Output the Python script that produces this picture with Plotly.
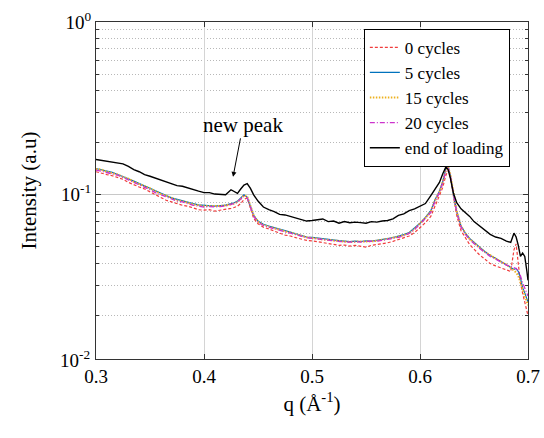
import plotly.graph_objects as go

q = [0.300, 0.305, 0.310, 0.315, 0.320, 0.325, 0.330, 0.335, 0.340, 0.345,
     0.350, 0.355, 0.360, 0.365, 0.370, 0.375, 0.380, 0.385, 0.390, 0.395,
     0.400, 0.405, 0.410, 0.415, 0.420, 0.425, 0.428, 0.431, 0.434, 0.437,
     0.440, 0.443, 0.446, 0.450, 0.455, 0.460, 0.465, 0.470, 0.475, 0.480,
     0.485, 0.490, 0.495, 0.500, 0.505, 0.510, 0.515, 0.520, 0.525, 0.530,
     0.535, 0.540, 0.545, 0.550, 0.555, 0.560, 0.565, 0.570, 0.575, 0.580,
     0.585, 0.590, 0.595, 0.600, 0.605, 0.610, 0.614, 0.618, 0.621, 0.624,
     0.626, 0.628, 0.631, 0.634, 0.638, 0.642, 0.646, 0.650, 0.655, 0.660,
     0.665, 0.670, 0.675, 0.680, 0.684, 0.687, 0.689, 0.691, 0.693, 0.695,
     0.697, 0.699, 0.700]

end_loading = [0.160, 0.158, 0.157, 0.155, 0.153, 0.151, 0.146, 0.140, 0.136, 0.131,
               0.128, 0.125, 0.121, 0.118, 0.116, 0.113, 0.112, 0.110, 0.107, 0.105,
               0.103, 0.103, 0.101, 0.100, 0.100, 0.107, 0.104, 0.102, 0.108, 0.114,
               0.116, 0.109, 0.100, 0.092, 0.085, 0.082, 0.080, 0.077, 0.0765, 0.075,
               0.0735, 0.072, 0.0705, 0.071, 0.0715, 0.0725, 0.070, 0.0705, 0.0685, 0.070,
               0.069, 0.0695, 0.069, 0.0685, 0.070, 0.0695, 0.0705, 0.071, 0.0725, 0.076,
               0.0775, 0.081, 0.083, 0.0855, 0.089, 0.099, 0.108, 0.118, 0.132, 0.145,
               0.140, 0.126, 0.102, 0.090, 0.083, 0.079, 0.075, 0.070, 0.066, 0.062,
               0.059, 0.057, 0.056, 0.054, 0.053, 0.060, 0.057, 0.051, 0.044, 0.046,
               0.044, 0.036, 0.032]

cyc5 = [0.142, 0.140, 0.137, 0.135, 0.131, 0.128, 0.124, 0.120, 0.116, 0.113,
        0.109, 0.105, 0.102, 0.099, 0.096, 0.094, 0.092, 0.0905, 0.089, 0.0875,
        0.0868, 0.0865, 0.0860, 0.0866, 0.0872, 0.089, 0.090, 0.092, 0.096, 0.100,
        0.097, 0.086, 0.076, 0.0705, 0.0675, 0.066, 0.0645, 0.063, 0.062, 0.0608,
        0.0595, 0.0582, 0.057, 0.0568, 0.0562, 0.0556, 0.0552, 0.0548, 0.0543, 0.054,
        0.0536, 0.054, 0.0537, 0.0542, 0.054, 0.0546, 0.055, 0.0558, 0.0566, 0.0576,
        0.0588, 0.0605, 0.064, 0.0685, 0.074, 0.081, 0.094, 0.105, 0.119, 0.142,
        0.148, 0.130, 0.100, 0.080, 0.066, 0.060, 0.056, 0.053, 0.050, 0.047,
        0.0445, 0.043, 0.041, 0.0395, 0.038, 0.037, 0.0375, 0.036, 0.033, 0.029,
        0.027, 0.025, 0.024]

cyc15 = [0.141, 0.140, 0.136, 0.134, 0.131, 0.127, 0.124, 0.119, 0.116, 0.112,
         0.109, 0.105, 0.101, 0.099, 0.096, 0.093, 0.092, 0.090, 0.088, 0.087,
         0.086, 0.0862, 0.0858, 0.0862, 0.0868, 0.088, 0.089, 0.091, 0.095, 0.099,
         0.098, 0.087, 0.076, 0.070, 0.067, 0.0655, 0.064, 0.0625, 0.0615, 0.0605,
         0.059, 0.058, 0.0568, 0.0565, 0.0558, 0.0552, 0.0548, 0.0545, 0.054, 0.0538,
         0.0533, 0.0536, 0.0535, 0.0538, 0.0538, 0.0542, 0.0548, 0.0555, 0.0563, 0.0572,
         0.0585, 0.060, 0.0635, 0.068, 0.0735, 0.080, 0.093, 0.104, 0.118, 0.140,
         0.145, 0.132, 0.101, 0.080, 0.066, 0.0598, 0.0555, 0.0525, 0.0495, 0.0468,
         0.0445, 0.0428, 0.041, 0.0395, 0.0378, 0.0365, 0.0355, 0.034, 0.031, 0.028,
         0.026, 0.024, 0.023]

cyc20 = [0.139, 0.137, 0.135, 0.132, 0.130, 0.126, 0.122, 0.118, 0.115, 0.111,
         0.107, 0.103, 0.100, 0.097, 0.095, 0.092, 0.091, 0.089, 0.087, 0.086,
         0.085, 0.0855, 0.085, 0.0855, 0.0862, 0.088, 0.089, 0.091, 0.094, 0.098,
         0.096, 0.085, 0.075, 0.0695, 0.0665, 0.065, 0.0635, 0.062, 0.061, 0.060,
         0.0588, 0.0578, 0.0565, 0.056, 0.0555, 0.0548, 0.0545, 0.054, 0.0538, 0.0535,
         0.0532, 0.0535, 0.0533, 0.0537, 0.0536, 0.054, 0.0545, 0.0552, 0.056, 0.0568,
         0.058, 0.0598, 0.063, 0.0675, 0.073, 0.079, 0.092, 0.103, 0.117, 0.138,
         0.143, 0.130, 0.099, 0.079, 0.065, 0.059, 0.055, 0.052, 0.049, 0.0465,
         0.044, 0.0425, 0.0408, 0.0392, 0.0385, 0.038, 0.0375, 0.036, 0.034, 0.031,
         0.029, 0.027, 0.026]

cyc0 = [0.136, 0.133, 0.131, 0.129, 0.126, 0.123, 0.118, 0.115, 0.111, 0.108,
        0.104, 0.100, 0.097, 0.093, 0.091, 0.089, 0.087, 0.086, 0.084, 0.082,
        0.0815, 0.082, 0.0805, 0.0815, 0.082, 0.0835, 0.0845, 0.086, 0.089, 0.094,
        0.096, 0.084, 0.073, 0.068, 0.065, 0.0635, 0.0615, 0.060, 0.0585, 0.0578,
        0.0565, 0.0555, 0.0545, 0.0542, 0.0535, 0.0528, 0.0522, 0.0518, 0.051, 0.0512,
        0.0505, 0.051, 0.0505, 0.0498, 0.051, 0.0515, 0.0522, 0.0528, 0.0538, 0.055,
        0.0562, 0.0578, 0.0605, 0.0645, 0.069, 0.075, 0.086, 0.097, 0.110, 0.130,
        0.138, 0.126, 0.095, 0.076, 0.062, 0.056, 0.0515, 0.0485, 0.045, 0.0425,
        0.040, 0.0388, 0.0378, 0.0368, 0.036, 0.048, 0.052, 0.040, 0.031, 0.027,
        0.024, 0.021, 0.020]

series = [
    ("0 cycles", cyc0, "#f03c3c", "3px,2px", 1.2),
    ("5 cycles", cyc5, "#0072BD", "solid", 1.2),
    ("15 cycles", cyc15, "#EDB120", "1.5px,1.5px", 2.0),
    ("20 cycles", cyc20, "#CC33CC", "5px,2px,1px,2px", 1.3),
    ("end of loading", end_loading, "#000000", "solid", 1.4),
]

FONT = "Liberation Serif"

fig = go.Figure()
for name, vals, color, dash, w in series:
    fig.add_trace(go.Scatter(x=q, y=vals, mode="lines", name=name,
                             line=dict(color=color, width=w, dash=dash)))

minor_vals = [m * 10 ** e for e in (-2, -1) for m in range(2, 10)]

fig.update_layout(
    width=544, height=438,
    margin=dict(l=96, r=16, t=22, b=79),
    paper_bgcolor="white", plot_bgcolor="white",
    font=dict(family=FONT, size=18, color="black"),
    showlegend=True,
    legend=dict(x=0.62, y=0.98, xanchor="left", yanchor="top",
                bgcolor="white", bordercolor="black", borderwidth=1,
                font=dict(family=FONT, size=17, color="black"), tracegroupgap=0,
                itemwidth=30),
    xaxis=dict(range=[0.3, 0.7], tickvals=[0.3, 0.4, 0.5, 0.6, 0.7],
               ticktext=["0.3", "0.4", "0.5", "0.6", "0.7"],
               ticks="inside", ticklen=5, tickcolor="#333",
               showline=True, linecolor="#333", linewidth=1, mirror="ticks",
               showgrid=True, gridcolor="#d4d4d4", gridwidth=1,
               zeroline=False, automargin=False,
               title=dict(text="q (Å<sup>-1</sup>)", font=dict(family=FONT, size=21), standoff=10),
               tickfont=dict(family=FONT, size=19)),
    yaxis=dict(type="log", range=[-1.95, 0],
               tickvals=[0.01, 0.1, 1],
               ticktext=["10<sup>-2</sup>", "10<sup>-1</sup>", "10<sup>0</sup>"],
               ticks="inside", ticklen=5, tickcolor="#333",
               showline=True, linecolor="#333", linewidth=1, mirror="ticks",
               showgrid=True, gridcolor="#c8c8c8", gridwidth=1,
               zeroline=False, automargin=False,
               minor=dict(tickmode="array", tickvals=minor_vals, ticks="inside",
                          ticklen=3, tickcolor="#333", showgrid=True,
                          gridcolor="#b8b8b8", griddash="1px,2px", gridwidth=1),
               title=dict(text="Intensity (a.u)", font=dict(family=FONT, size=21), standoff=18),
               tickfont=dict(family=FONT, size=19)),
)

fig.add_annotation(x=0.4269, y=-0.896, xref="x", yref="y",
                   text="new peak", showarrow=True, arrowhead=2, arrowsize=1,
                   arrowwidth=1, arrowcolor="black", ax=10, ay=-52,
                   font=dict(family=FONT, size=21, color="black"))

fig.add_annotation(x=0, y=0, xref="paper", yref="paper", xanchor="right",
                   yanchor="middle", xshift=-4, showarrow=False,
                   text="10<sup>-2</sup>", font=dict(family=FONT, size=19, color="black"))

fig.write_html("out.html", config={"displayModeBar": False},
               post_script="document.body.style.margin='0';document.body.style.overflow='hidden';")
